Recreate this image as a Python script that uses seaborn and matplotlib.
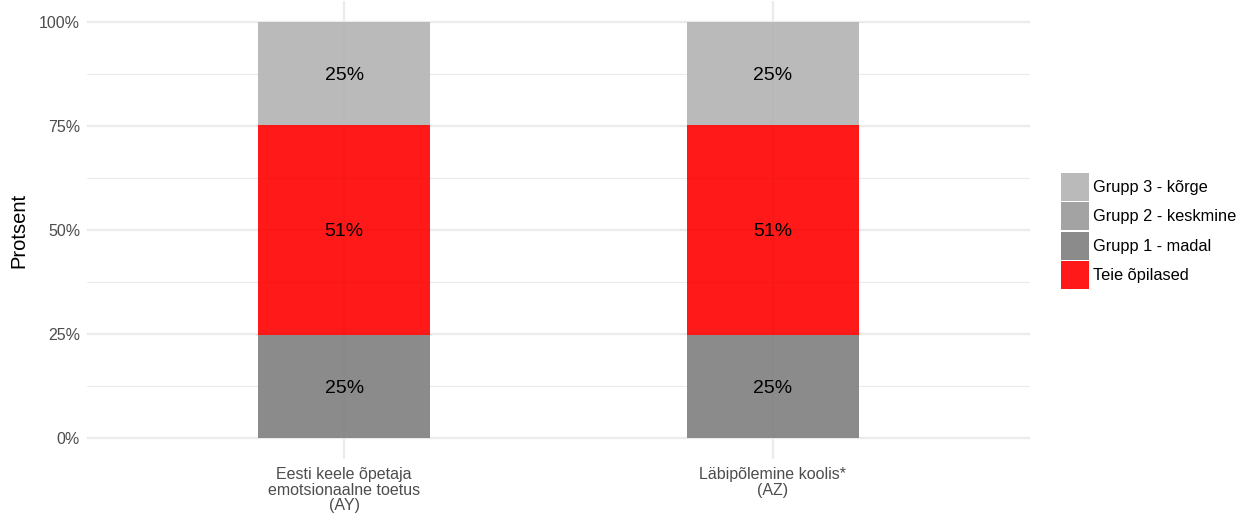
import numpy as np
import pandas as pd
import matplotlib
matplotlib.use("Agg")
import matplotlib.pyplot as plt
import seaborn as sns
from matplotlib.patches import Patch

# data
categories = ["Eesti keele õpetaja\nemotsionaalne toetus\n(AY)", "Läbipõlemine koolis*\n(AZ)"]
grupp1 = [24.7, 24.7]    # Grupp 1 - madal (bottom)
teie = [50.6, 50.6]      # Teie õpilased (middle)
grupp3 = [24.7, 24.7]    # Grupp 3 - kõrge (top)
legend_labels = ["Grupp 3 - kõrge", "Grupp 2 - keskmine", "Grupp 1 - madal", "Teie õpilased"]
y_ticks = [0, 25, 50, 75, 100]

colors = {
    "Grupp 3 - kõrge": "#b3b3b3",
    "Grupp 2 - keskmine": "#999999",
    "Grupp 1 - madal": "#7f7f7f",
    "Teie õpilased": "#ff0000",
}

sns.set_theme(style="whitegrid")
plt.rcParams["font.family"] = ["Liberation Sans", "DejaVu Sans"]

df = pd.DataFrame({
    "kat": categories,
    "Grupp 1 - madal": grupp1,
    "Teie õpilased": teie,
    "Grupp 3 - kõrge": grupp3,
})

fig = plt.figure(figsize=(12.36, 5.16), dpi=100)
ax = fig.add_axes([87 / 1236, 57.2 / 516, 943 / 1236, 457.6 / 516])

bottom = np.zeros(len(df))
for seg in ["Grupp 1 - madal", "Teie õpilased", "Grupp 3 - kõrge"]:
    sns.barplot(data=df, x="kat", y=seg, bottom=bottom, color=colors[seg],
                alpha=0.9, width=0.4, ax=ax, linewidth=0, saturation=1)
    for i, v in enumerate(df[seg]):
        ax.text(i, bottom[i] + v / 2, f"{v:.0f}%", ha="center", va="center_baseline",
                fontsize=14, color="black")
    bottom = bottom + df[seg].values

ax.set_xlim(-0.6, 1.6)
ax.set_ylim(-5, 105)
ax.set_yticks(y_ticks)
ax.set_yticklabels([f"{t}%" for t in y_ticks])
ax.set_yticks([12.5, 37.5, 62.5, 87.5], minor=True)
ax.grid(True, which="major", color="#ebebeb", linewidth=1.6)
ax.grid(True, which="minor", axis="y", color="#ebebeb", linewidth=0.8)
ax.set_axisbelow(True)
for s in ax.spines.values():
    s.set_visible(False)
ax.tick_params(axis="both", which="both", length=0, colors="#4d4d4d", labelsize=11.5)
ax.tick_params(axis="x", pad=6)
ax.tick_params(axis="y", pad=5)
for lab in ax.get_xticklabels():
    lab.set_linespacing(1.05)
ax.set_xlabel("")
ax.set_ylabel("Protsent", fontsize=14.5, color="black", labelpad=7.8)

handles = [Patch(facecolor=colors[l], alpha=0.9, linewidth=0) for l in legend_labels]
fig.legend(handles, legend_labels, loc="center left", bbox_to_anchor=(1061 / 1236, 1 - 231 / 516),
           frameon=False, fontsize=11.75, handlelength=1.72, handleheight=2.27,
           labelspacing=0.09, handletextpad=0.25, borderpad=0, borderaxespad=0,
           labelcolor="black")

fig.savefig("out.png", dpi=100)
